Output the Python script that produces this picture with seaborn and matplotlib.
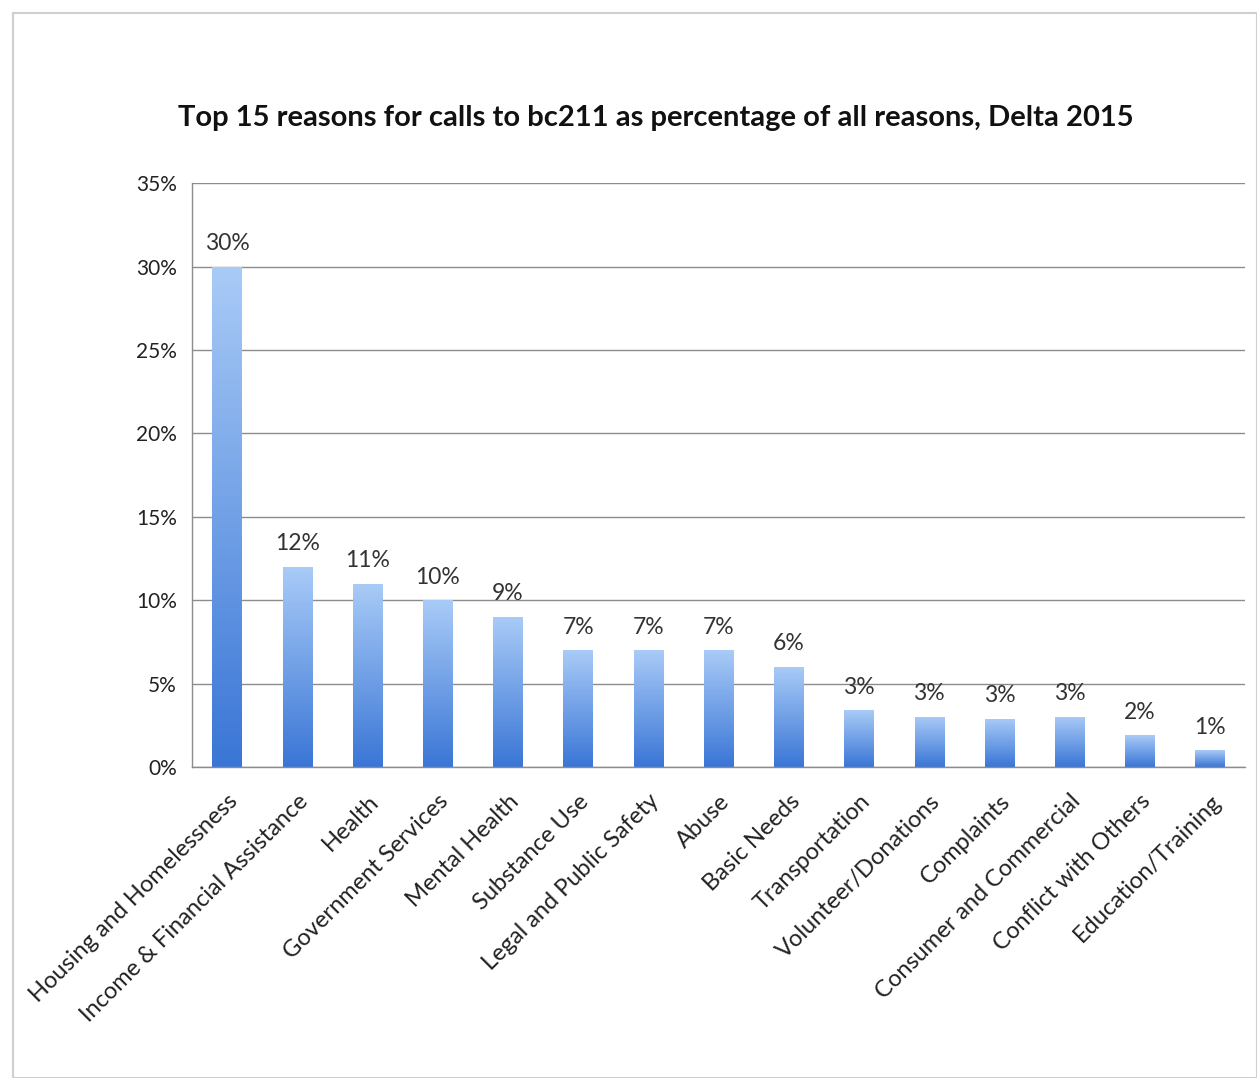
import matplotlib
matplotlib.use("Agg")
import matplotlib.pyplot as plt
import seaborn as sns
import numpy as np
import pandas as pd
from matplotlib.colors import LinearSegmentedColormap
from matplotlib.ticker import FuncFormatter, FixedLocator

categories = ["Housing and Homelessness", "Income & Financial Assistance", "Health",
              "Government Services", "Mental Health", "Substance Use",
              "Legal and Public Safety", "Abuse", "Basic Needs", "Transportation",
              "Volunteer/Donations", "Complaints", "Consumer and Commercial",
              "Conflict with Others", "Education/Training"]
values = [30, 12, 11, 10, 9, 7, 7, 7, 6, 3.4, 3.0, 2.9, 3.0, 1.9, 1.0]
labels = ["30%", "12%", "11%", "10%", "9%", "7%", "7%", "7%", "6%", "3%", "3%", "3%", "3%", "2%", "1%"]
title = "Top 15 reasons for calls to bc211 as percentage of all reasons, Delta 2015"

sns.set_theme(style="white")
plt.rcParams['font.family'] = ['Lato', 'DejaVu Sans']

df = pd.DataFrame({"cat": categories, "val": values})

fig = plt.figure(figsize=(12.57, 10.78), dpi=100)
ax = fig.add_axes([0.1527, 0.2885, 0.838, 0.5415])

sns.barplot(data=df, x="cat", y="val", ax=ax, color="#6a9fe6", width=0.42, saturation=1)

cmap = LinearSegmentedColormap.from_list("g", ["#3a76d6", "#a9cbf7"])
grad = np.linspace(0, 1, 256).reshape(-1, 1)
for p in ax.patches:
    x0, y0 = p.get_x(), p.get_y()
    w, h = p.get_width(), p.get_height()
    im = ax.imshow(grad, cmap=cmap, aspect="auto", origin="lower",
                   extent=[x0, x0 + w, y0, y0 + h], zorder=p.get_zorder() + 0.1)
    im.set_clip_path(p)
    p.set_edgecolor("none")

ax.set_xlim(-0.5, len(categories) - 0.5)
ax.set_ylim(0, 35)
ax.yaxis.set_major_locator(FixedLocator([0, 5, 10, 15, 20, 25, 30, 35]))
ax.yaxis.set_major_formatter(FuncFormatter(lambda v, _: f"{int(v)}%"))
ax.grid(axis="y", color="#8c8c8c", linewidth=1.0)
ax.set_axisbelow(True)

for i, (v, lab) in enumerate(zip(values, labels)):
    ax.text(i, v + 0.75, lab, ha="center", va="bottom", fontsize=16.5, color="#333333")

ax.set_xlabel("")
ax.set_ylabel("")
ax.set_xticks(range(len(categories)))
ax.set_xticklabels(categories, rotation=45, ha="right", rotation_mode="anchor",
                   fontsize=17, color="#222222")
ax.tick_params(axis="x", length=0, pad=17)
ax.tick_params(axis="y", labelsize=15, labelcolor="#222222", length=0, pad=11)
ax.set_xticks(np.arange(-0.5, len(categories), 1), minor=True)
ax.tick_params(axis="x", which="minor", length=5, color="#8c8c8c", direction="out")

for s in ["top", "right"]:
    ax.spines[s].set_visible(False)
for s in ["left", "bottom"]:
    ax.spines[s].set_color("#8c8c8c")
    ax.spines[s].set_linewidth(1.0)

fig.text(0.522, 0.891, title, ha="center", va="center", fontsize=21,
         fontweight="bold", color="#111111")

frame = plt.Rectangle((0.010, 0.0), 0.99, 0.988, transform=fig.transFigure,
                      fill=False, edgecolor="#cfcfcf", linewidth=1.5)
fig.patches.append(frame)

fig.savefig("out.png", dpi=100)
